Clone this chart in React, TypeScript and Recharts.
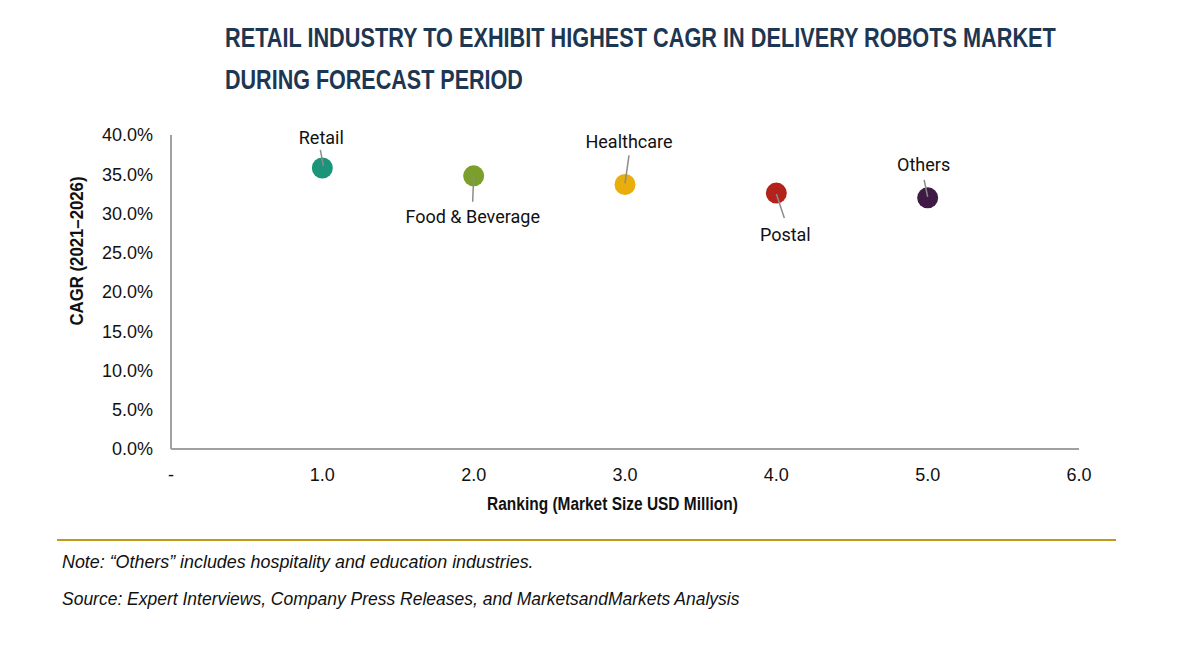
import React, { useLayoutEffect, useRef, useState } from 'react';
import { ScatterChart, Scatter, XAxis, YAxis } from 'recharts';

// ---- data ----
const categories = ['Retail', 'Food & Beverage', 'Healthcare', 'Postal', 'Others'];
const rankings = [1, 2, 3, 4, 5];
const cagrValues = [35.8, 34.8, 33.7, 32.6, 32.0];
const xTicks = [0, 1, 2, 3, 4, 5, 6];
const yTicks = [0, 5, 10, 15, 20, 25, 30, 35, 40];

// ---- styles ----
const pointColors = ['#1b9479', '#7b9e2c', '#e9ae0c', '#b3231c', '#3e1a45'];
const labelLayout = [
  { l1: [-2, -18], l2: [1, -2], t: [-1, -30] },
  { l1: [0, 1], l2: [-1, 26], t: [-1, 41] },
  { l1: [4, -29], l2: [0, -1], t: [4, -43] },
  { l1: [0, 1], l2: [8, 25], t: [9, 41] },
  { l1: [-3.5, -18], l2: [0, -1], t: [-4, -33] },
];

const data = categories.map((name, i) => ({ name, x: rankings[i], y: cagrValues[i] }));

const renderPoint = (props: any) => {
  const { cx, cy, payload } = props;
  const i = categories.indexOf(payload.name);
  const o = labelLayout[i];
  return (
    <g>
      <circle cx={cx} cy={cy} r={10.5} fill={pointColors[i]} />
      <line
        x1={cx + o.l1[0]}
        y1={cy + o.l1[1]}
        x2={cx + o.l2[0]}
        y2={cy + o.l2[1]}
        stroke="#8c8c8c"
        strokeWidth={1.5}
      />
      <text
        x={cx + o.t[0]}
        y={cy + o.t[1]}
        textAnchor="middle"
        dominantBaseline="central"
        fontFamily="Roboto, 'Liberation Sans', sans-serif"
        fontSize={18}
        fill="#111"
      >
        {payload.name}
      </text>
    </g>
  );
};

const tickFont = { fontFamily: "'Liberation Sans', Arial, sans-serif", fontSize: 18, fill: '#111' };
const condensed = "'Liberation Sans Narrow', 'Arial Narrow', 'Liberation Sans', sans-serif";

// Text scaled horizontally (by transform) so that its real width equals `width`.
function FitText(props: any) {
  const { x, y, width, rotate, children, ...rest } = props;
  const ref = useRef<SVGTextElement>(null);
  const [s, setS] = useState(1);
  useLayoutEffect(() => {
    if (ref.current) {
      const w = ref.current.getComputedTextLength();
      if (w > 0) setS(width / w);
    }
  }, [width]);
  const t = `translate(${x},${y})${rotate ? ` rotate(${rotate})` : ''} scale(${s},1)`;
  return (
    <text ref={ref} x={0} y={0} transform={t} {...rest}>
      {children}
    </text>
  );
}

export default function App() {
  return (
    <div style={{ position: 'absolute', left: 0, top: 0, width: 1200, height: 650, background: '#fff' }}>
      <ScatterChart
        width={1200}
        height={650}
        margin={{ top: 135, right: 121, bottom: 171, left: 0 }}
      >
        <XAxis
          type="number"
          dataKey="x"
          domain={[0, 6]}
          ticks={xTicks}
          interval={0}
          tickFormatter={(v: number) => (v === 0 ? '-' : v.toFixed(1))}
          axisLine={{ stroke: '#a0a0a0', strokeWidth: 2 }}
          tickLine={false}
          tickSize={0}
          tickMargin={19}
          height={30}
          tick={tickFont}
        />
        <YAxis
          type="number"
          dataKey="y"
          domain={[0, 40]}
          ticks={yTicks}
          interval={0}
          tickFormatter={(v: number) => v.toFixed(1) + '%'}
          axisLine={{ stroke: '#a0a0a0', strokeWidth: 2 }}
          tickLine={false}
          tickSize={0}
          tickMargin={18}
          width={171}
          tick={tickFont}
        />
        <Scatter data={data} shape={renderPoint} isAnimationActive={false} />
      </ScatterChart>
      <svg
        width={1200}
        height={650}
        style={{ position: 'absolute', left: 0, top: 0, pointerEvents: 'none' }}
      >
        <FitText
          x={225}
          y={47}
          width={831}
          fontFamily={condensed}
          fontWeight="bold"
          fontSize={28}
          fill="#1d3652"
        >
          RETAIL INDUSTRY TO EXHIBIT HIGHEST CAGR IN DELIVERY ROBOTS MARKET
        </FitText>
        <FitText
          x={225}
          y={89}
          width={298}
          fontFamily={condensed}
          fontWeight="bold"
          fontSize={28}
          fill="#1d3652"
        >
          DURING FORECAST PERIOD
        </FitText>
        <FitText
          x={77}
          y={251}
          rotate={-90}
          width={149}
          textAnchor="middle"
          dominantBaseline="central"
          fontFamily={condensed}
          fontWeight="bold"
          fontSize={19}
          fill="#111"
        >
          CAGR (2021–2026)
        </FitText>
        <FitText
          x={612.5}
          y={503}
          width={251}
          textAnchor="middle"
          dominantBaseline="central"
          fontFamily={condensed}
          fontWeight="bold"
          fontSize={19}
          fill="#111"
        >
          Ranking (Market Size USD Million)
        </FitText>
        <line x1={57} y1={540} x2={1116} y2={540} stroke="#c19a1d" strokeWidth={2} />
        <FitText
          x={62}
          y={568}
          width={472}
          fontFamily={condensed}
          fontStyle="italic"
          fontSize={18}
          fill="#111"
        >
          Note: “Others” includes hospitality and education industries.
        </FitText>
        <FitText
          x={62}
          y={605}
          width={678}
          fontFamily={condensed}
          fontStyle="italic"
          fontSize={18}
          fill="#111"
        >
          Source: Expert Interviews, Company Press Releases, and MarketsandMarkets Analysis
        </FitText>
      </svg>
    </div>
  );
}
